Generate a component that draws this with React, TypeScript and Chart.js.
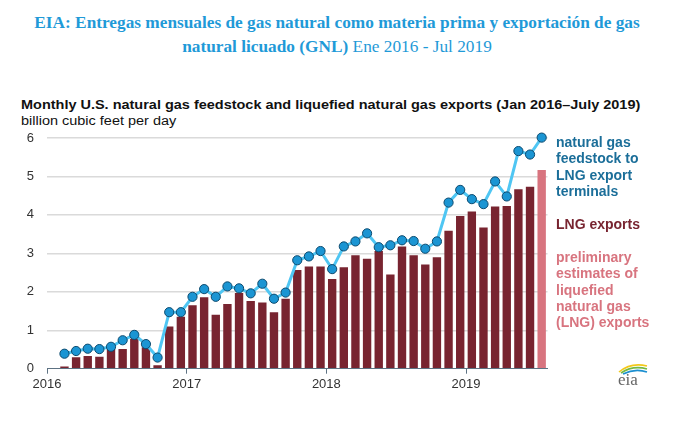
import { useEffect, useRef } from 'react';
import { Chart, registerables } from 'chart.js';

Chart.register(...registerables);

// months Feb 2016 - Jul 2019
const months = [
  '2016-02', '2016-03', '2016-04', '2016-05', '2016-06', '2016-07', '2016-08', '2016-09', '2016-10', '2016-11', '2016-12',
  '2017-01', '2017-02', '2017-03', '2017-04', '2017-05', '2017-06', '2017-07', '2017-08', '2017-09', '2017-10', '2017-11', '2017-12',
  '2018-01', '2018-02', '2018-03', '2018-04', '2018-05', '2018-06', '2018-07', '2018-08', '2018-09', '2018-10', '2018-11', '2018-12',
  '2019-01', '2019-02', '2019-03', '2019-04', '2019-05', '2019-06', '2019-07',
];

// natural gas feedstock to LNG export terminals (Bcf/d)
const feedstock = [
  0.39, 0.46, 0.52, 0.51, 0.57, 0.74, 0.88, 0.64, 0.29, 1.47, 1.47,
  1.87, 2.07, 1.87, 2.14, 2.09, 1.96, 2.21, 1.82, 1.98, 2.82, 2.92, 3.06,
  2.59, 3.18, 3.31, 3.52, 3.16, 3.21, 3.34, 3.32, 3.12, 3.31, 4.32, 4.65,
  4.41, 4.28, 4.87, 4.48, 5.66, 5.57, 6.01,
];

// LNG exports, Feb 2016 - Jun 2019
const lngExports = [
  0.06, 0.3, 0.33, 0.31, 0.52, 0.51, 0.78, 0.56, 0.09, 1.1, 1.35,
  1.65, 1.86, 1.4, 1.68, 1.97, 1.76, 1.72, 1.47, 1.82, 2.57, 2.66, 2.66,
  2.33, 2.64, 2.95, 2.86, 3.06, 2.45, 3.18, 2.95, 2.71, 2.9, 3.59, 3.97,
  4.09, 3.67, 4.22, 4.23, 4.67, 4.73,
];

// preliminary estimate
const prelimMonths = ['2019-07'];
const prelimExports = [5.17];

const yearLabels = ['2016', '2017', '2018', '2019'];

const monthPos = (m: string) => {
  const [y, mo] = m.split('-').map(Number);
  return (y - 2016) * 12 + (mo - 1) + 0.5;
};

const sans = '"Liberation Sans", Arial, sans-serif';

export default function App() {
  const canvasRef = useRef<HTMLCanvasElement>(null);
  const chartRef = useRef<Chart | null>(null);

  useEffect(() => {
    if (!canvasRef.current) return;
    const ctx = canvasRef.current.getContext('2d');
    if (!ctx) return;

    chartRef.current = new Chart(ctx, {
      type: 'bar',
      data: {
        datasets: [
          {
            type: 'line',
            label: 'natural gas feedstock to LNG export terminals',
            data: feedstock.map((v, i) => ({ x: monthPos(months[i]), y: v })),
            borderColor: '#4fc6f3',
            borderWidth: 3,
            pointRadius: 4.6,
            pointBackgroundColor: '#1b95d3',
            pointBorderColor: '#0d4a6e',
            pointBorderWidth: 1,
            tension: 0,
            clip: false,
            order: 0,
          },
          {
            label: 'LNG exports',
            data: lngExports.map((v, i) => ({ x: monthPos(months[i]), y: v })),
            backgroundColor: '#782430',
            grouped: false,
            categoryPercentage: 1,
            barPercentage: 0.72,
            order: 1,
          },
          {
            label: 'preliminary estimates',
            data: prelimExports.map((v, i) => ({ x: monthPos(prelimMonths[i]), y: v })),
            backgroundColor: '#d8747f',
            grouped: false,
            categoryPercentage: 1,
            barPercentage: 0.72,
            order: 1,
          },
        ],
      } as any,
      options: {
        responsive: false,
        animation: false,
        layout: { padding: { left: 0, top: 138, right: 126.5, bottom: 0 } },
        plugins: { legend: { display: false }, tooltip: { enabled: false } },
        scales: {
          x: {
            type: 'linear',
            min: 0,
            max: 43,
            offset: false,
            afterBuildTicks: (s: any) => {
              s.ticks = yearLabels.map((_, i) => ({ value: i * 12 }));
            },
            afterFit: (s: any) => {
              s.height = 62.3;
            },
            ticks: {
              autoSkip: false,
              maxRotation: 0,
              padding: 3,
              color: '#333',
              font: { family: sans, size: 13 },
              callback: (_v: any, i: number) => yearLabels[i],
            },
            grid: { offset: false, drawOnChartArea: false, tickLength: 5, color: '#5d7283', lineWidth: 1 },
            border: { color: '#5d7283', width: 1 },
          },
          y: {
            min: 0,
            max: 6,
            afterFit: (s: any) => {
              s.width = 47;
            },
            ticks: { stepSize: 1, padding: 13, color: '#333', font: { family: sans, size: 13 } },
            grid: {
              drawTicks: false,
              lineWidth: 1.5,
              color: (c: any) => (c.tick && c.tick.value === 0 ? 'rgba(0,0,0,0)' : '#dadada'),
            },
            border: { display: false },
          },
        },
      } as any,
    });

    return () => {
      if (chartRef.current) {
        chartRef.current.destroy();
        chartRef.current = null;
      }
    };
  }, []);

  const side = { position: 'absolute' as const, left: 556, fontFamily: sans, fontWeight: 'bold' as const, fontSize: 14, lineHeight: '16.4px' };

  return (
    <div style={{ position: 'absolute', left: 0, top: 0, width: 674, height: 431, background: '#fff', overflow: 'hidden' }}>
      <div
        style={{
          position: 'absolute', left: 0, top: 10.5, width: 674, textAlign: 'center',
          fontFamily: '"Liberation Serif", "DejaVu Serif", serif', fontSize: 16, lineHeight: '24px', color: '#1f9ad8',
          transform: 'scaleX(1.08)', transformOrigin: '337px 0',
        }}
      >
        <b>EIA: Entregas mensuales de gas natural como materia prima y exportación de gas</b>
        <br />
        <b>natural licuado (GNL)</b> Ene 2016 - Jul 2019
      </div>
      <div
        style={{
          position: 'absolute', left: 21, top: 97, fontFamily: sans, fontSize: 12, lineHeight: '16px', color: '#111',
          whiteSpace: 'nowrap', transform: 'scaleX(1.206)', transformOrigin: '0 0',
        }}
      >
        <b>Monthly U.S. natural gas feedstock and liquefied natural gas exports (Jan 2016–July 2019)</b>
        <br />
        billion cubic feet per day
      </div>
      <canvas ref={canvasRef} width={674} height={431} style={{ position: 'absolute', left: 0, top: 0 }} />
      <div style={{ ...side, top: 133.8, color: '#1b6e99' }}>
        natural gas<br />feedstock to<br />LNG export<br />terminals
      </div>
      <div style={{ ...side, top: 215.8, color: '#782430' }}>LNG exports</div>
      <div style={{ ...side, top: 248.8, color: '#d8747f' }}>
        preliminary<br />estimates of<br />liquefied<br />natural gas<br />(LNG) exports
      </div>
      <svg style={{ position: 'absolute', left: 615, top: 361 }} width={36} height={28}>
        <path d="M4 11 Q 16 1 32 5" stroke="#f2c81a" strokeWidth={1.6} fill="none" />
        <path d="M6 12 Q 18 4 32 8" stroke="#74b843" strokeWidth={1.6} fill="none" />
        <path d="M8 13 Q 20 7 32 11" stroke="#1c8fd0" strokeWidth={1.6} fill="none" />
        <text x={3} y={24} fontFamily='"Liberation Serif", serif' fontSize={17} fill="#666">eia</text>
      </svg>
    </div>
  );
}
